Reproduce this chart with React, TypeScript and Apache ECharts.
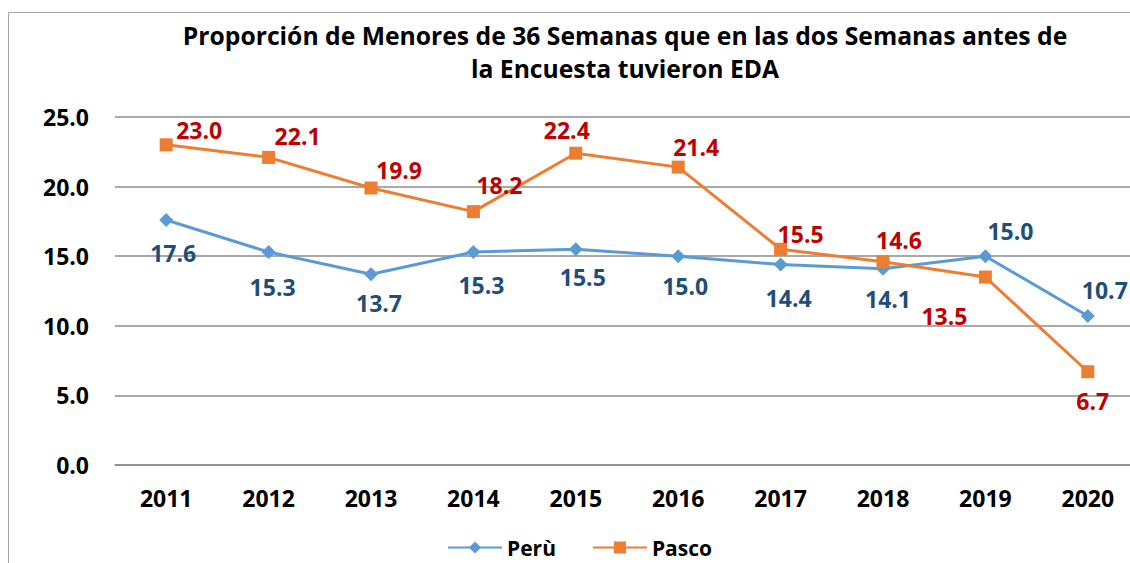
import React, { useEffect, useRef } from "react";
import * as echarts from "echarts";

const categories = ["2011", "2012", "2013", "2014", "2015", "2016", "2017", "2018", "2019", "2020"];
const peruValues = [17.6, 15.3, 13.7, 15.3, 15.5, 15.0, 14.4, 14.1, 15.0, 10.7];
const pascoValues = [23.0, 22.1, 19.9, 18.2, 22.4, 21.4, 15.5, 14.6, 13.5, 6.7];
const peruLabelOffsets: [number, number][] = [
  [7, 33], [4, 35], [8, 29], [8, 33], [7, 28], [7, 30], [8, 33], [5, 30], [25, -25], [17, -26],
];
const pascoLabelOffsets: [number, number][] = [
  [33, -15], [29, -21], [28, -18], [26, -27], [-9, -23], [18, -20], [20, -15], [16, -22], [-41, 39], [5, 29],
];
const titleText = "Proporción de Menores de 36 Semanas que en las dos Semanas antes de\nla Encuesta tuvieron EDA";

const FONT = "'Open Sans', sans-serif";

export default function App() {
  const ref = useRef<HTMLDivElement>(null);
  useEffect(() => {
    if (!ref.current) return;
    const chart = echarts.init(ref.current, null, { renderer: "svg" });
    const mkData = (vals: number[], offs: [number, number][], color: string) =>
      vals.map((v, i) => ({
        value: v,
        label: {
          show: true,
          position: "inside",
          offset: offs[i],
          color,
          fontSize: 23,
          fontWeight: "bold",
          fontFamily: FONT,
          formatter: (p: any) => Number(p.value).toFixed(1),
        },
      }));
    chart.setOption({
      animation: false,
      backgroundColor: "#ffffff",
      title: {
        text: titleText,
        left: 620,
        top: 14,
        textAlign: "center",
        textStyle: {
          fontSize: 24.7,
          fontWeight: "bold",
          fontFamily: FONT,
          color: "#000",
          lineHeight: 33,
        },
      },
      graphic: [
        {
          type: "rect",
          shape: { x: 8.5, y: 12.5, width: 1200, height: 700 },
          style: { fill: "none", stroke: "#a6a6a6", lineWidth: 1 },
          silent: true,
          z: -10,
        },
      ],
      legend: {
        bottom: 0,
        left: 442,
        itemWidth: 54,
        itemHeight: 15,
        itemGap: 36,
        textStyle: { fontSize: 21, fontWeight: "bold", fontFamily: FONT, color: "#000" },
        data: ["Perù", "Pasco"],
      },
      grid: { left: 115, right: 11, top: 117, bottom: 98, containLabel: false },
      xAxis: {
        type: "category",
        data: categories,
        boundaryGap: true,
        axisLine: { show: true, lineStyle: { color: "#8c8c8c", width: 1.5 } },
        axisTick: { show: false },
        axisLabel: { fontSize: 23, fontWeight: "bold", fontFamily: FONT, color: "#000", margin: 21 },
      },
      yAxis: {
        type: "value",
        min: 0,
        max: 25,
        interval: 5,
        axisLine: { show: false },
        axisTick: { show: false },
        splitLine: { lineStyle: { color: "#8c8c8c", width: 1.5 } },
        axisLabel: {
          fontSize: 23,
          fontWeight: "bold",
          fontFamily: FONT,
          color: "#000",
          margin: 26,
          formatter: (v: number) => v.toFixed(1),
        },
      },
      series: [
        {
          name: "Perù",
          type: "line",
          data: mkData(peruValues, peruLabelOffsets, "#1f4e79"),
          symbol: "diamond",
          symbolSize: 14,
          lineStyle: { color: "#5b9bd5", width: 3 },
          itemStyle: { color: "#5b9bd5" },
        },
        {
          name: "Pasco",
          type: "line",
          data: mkData(pascoValues, pascoLabelOffsets, "#c00000"),
          symbol: "rect",
          symbolSize: 13,
          lineStyle: { color: "#ed7d31", width: 3 },
          itemStyle: { color: "#ed7d31" },
        },
      ],
    });
    return () => chart.dispose();
  }, []);
  return (
    <div style={{ position: "fixed", left: 0, top: 0, width: 1130, height: 563, overflow: "hidden", background: "#fff" }}>
      <div ref={ref} style={{ width: 1150, height: 563 }} />
    </div>
  );
}
